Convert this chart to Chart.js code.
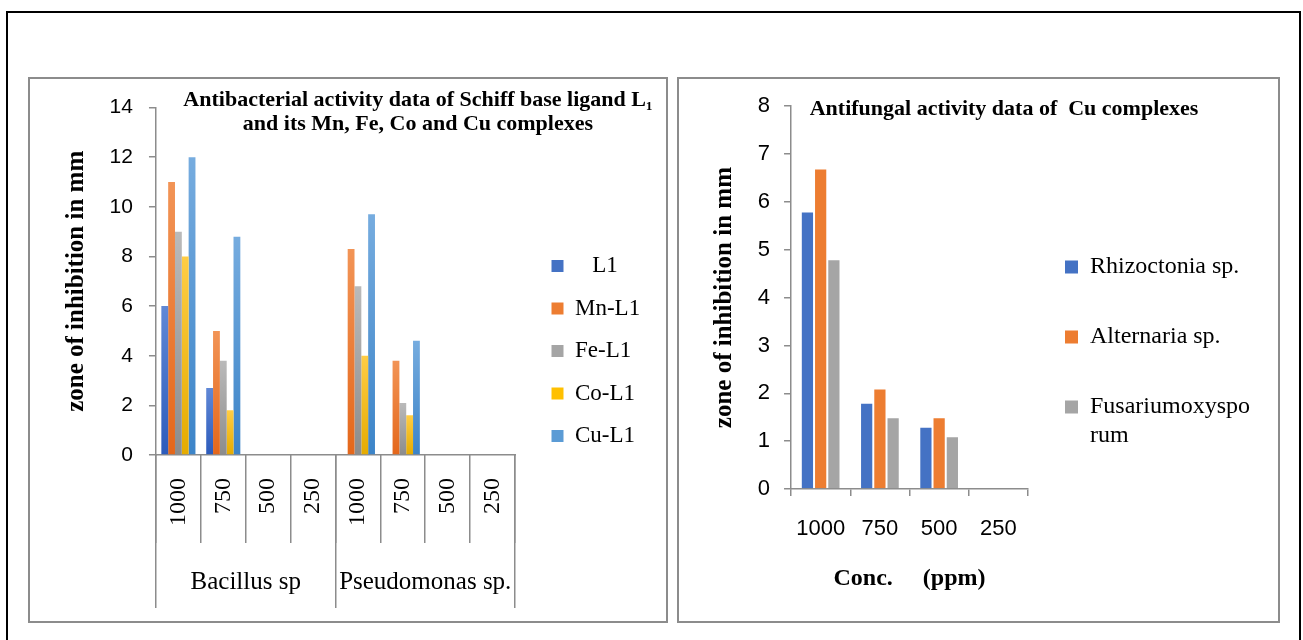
<!DOCTYPE html>
<html lang="en">
<head>
<meta charset="utf-8">
<title>Antibacterial and antifungal activity</title>
<script src="https://cdn.jsdelivr.net/npm/chart.js@4.4.1/dist/chart.umd.min.js"></script>
<style>
  html, body { margin: 0; padding: 0; background: #fff; }
  body { position: relative; width: 1303px; height: 640px; overflow: hidden; }
  .frame { position: absolute; left: 6px; top: 11px; width: 1291px; height: 700px; border: 2px solid #000; }
  .box { position: absolute; top: 77px; height: 542px; border: 2px solid #8c8c8c; background: #fff; }
  .box canvas { display: block; }
  #boxA { left: 28px; width: 636px; }
  #boxB { left: 677px; width: 599px; }
</style>
</head>
<body>
<div class="frame"></div>
<div class="box" id="boxA"><canvas id="bacteriaChart" width="636" height="542"></canvas></div>
<div class="box" id="boxB"><canvas id="fungiChart" width="599" height="542"></canvas></div>
<script>
// --- data ---
const concLevels = ["1000", "750", "500", "250"];
const bacteria = ["Bacillus sp", "Pseudomonas sp."];
const bacteriaConc = [...concLevels, ...concLevels];

// zone of inhibition (mm), Bacillus 1000..250 then Pseudomonas 1000..250
const l1Zone = [6, 2.7, 0, 0, 0, 0, 0, 0];
const mnZone = [11, 5, 0, 0, 8.3, 3.8, 0, 0];
const feZone = [9, 3.8, 0, 0, 6.8, 2.1, 0, 0];
const coZone = [8, 1.8, 0, 0, 4, 1.6, 0, 0];
const cuZone = [12, 8.8, 0, 0, 9.7, 4.6, 0, 0];

// antifungal, 1000..250 ppm
const rhizoctonia = [5.8, 1.8, 1.3, 0];
const alternaria = [6.7, 2.1, 1.5, 0];
const fusarium = [4.8, 1.5, 1.1, 0];

const serif = "'Liberation Serif', 'Times New Roman', serif";
const sans = "'Liberation Sans', Arial, sans-serif";
const axisGray = "#8c8c8c";

// vertical gradient per bar, lighter on top
const gradientFill = (light, dark) => (ctx) => {
  const chart = ctx.chart;
  if (ctx.type !== "data" || !chart.chartArea) return dark;
  const y = chart.scales.y;
  const top = y.getPixelForValue(ctx.raw || 0);
  const base = y.getPixelForValue(0);
  if (base - top < 1) return dark;
  const g = chart.ctx.createLinearGradient(0, top, 0, base);
  g.addColorStop(0, light);
  g.addColorStop(1, dark);
  return g;
};

// chart title drawn over the plot area, as in the original
const titleOverlay = {
  id: "titleOverlay",
  afterDraw(chart, args, opts) {
    const area = chart.chartArea;
    const c = chart.ctx;
    c.save();
    c.font = opts.font;
    c.fillStyle = "#000";
    c.textAlign = "center";
    c.textBaseline = "middle";
    opts.lines.forEach((line, i) => {
      c.fillText(line, area.left + opts.dx, area.top + opts.dy + i * opts.lineGap);
    });
    c.restore();
  }
};

// move the legend box a little after layout
const legendNudge = {
  id: "legendNudge",
  afterLayout(chart, args, opts) {
    const lg = chart.legend;
    if (!lg) return;
    lg.left += opts.dx || 0;
    lg.right += opts.dx || 0;
    lg.top += opts.dy || 0;
    lg.bottom += opts.dy || 0;
  }
};

const baseLabels = Chart.defaults.plugins.legend.labels.generateLabels;
const solidLabels = (wrapAt) => (chart) =>
  baseLabels(chart).map((item) => {
    const ds = chart.data.datasets[item.datasetIndex];
    let text = item.text;
    // long single words get broken like in the original legend
    if (wrapAt && text.length > wrapAt && !text.includes(" ")) {
      text = [text.slice(0, wrapAt), text.slice(wrapAt)];
    }
    return { ...item, text, fillStyle: ds.swatch, strokeStyle: ds.swatch, lineWidth: 0 };
  });

const hiddenTicks = { display: false };

new Chart(document.getElementById("bacteriaChart"), {
  type: "bar",
  data: {
    labels: bacteriaConc,
    datasets: [
      { label: "\u00a0\u00a0\u00a0L1", data: l1Zone, swatch: "#4472c4", backgroundColor: gradientFill("#6088d6", "#2c5bbb") },
      { label: "Mn-L1", data: mnZone, swatch: "#ed7d31", backgroundColor: gradientFill("#f29456", "#e4671b") },
      { label: "Fe-L1", data: feZone, swatch: "#a5a5a5", backgroundColor: gradientFill("#bababa", "#8c8c8c") },
      { label: "Co-L1", data: coZone, swatch: "#ffc000", backgroundColor: gradientFill("#ffcd45", "#e5ab00") },
      { label: "Cu-L1", data: cuZone, swatch: "#5b9bd5", backgroundColor: gradientFill("#76acdf", "#3c84c8") }
    ]
  },
  plugins: [titleOverlay, legendNudge],
  options: {
    responsive: false,
    animation: false,
    devicePixelRatio: 1,
    layout: { padding: { left: 32, top: 26, right: 39, bottom: 6 } },
    datasets: { bar: { barPercentage: 1, categoryPercentage: 0.76 } },
    scales: {
      // concentration labels
      x: {
        offset: true,
        grid: { display: false, drawTicks: false },
        border: { color: axisGray, width: 1.5 },
        ticks: { minRotation: 90, maxRotation: 90, autoSkip: false, padding: 23, color: "#000", font: { family: serif, size: 24 } }
      },
      // organism labels
      x2: {
        type: "category",
        position: "bottom",
        labels: bacteria,
        offset: true,
        grid: { display: false, drawTicks: false },
        border: { display: false },
        ticks: { padding: 18, color: "#000", font: { family: serif, size: 25 } }
      },
      // separators between concentrations
      xSep: {
        type: "category",
        position: { y: 0 },
        offset: true,
        grid: { drawOnChartArea: false, offset: true, tickLength: 88, color: axisGray, lineWidth: 1.5 },
        border: { display: false },
        ticks: hiddenTicks
      },
      // separators between organisms
      xGroupSep: {
        type: "category",
        position: { y: 0 },
        labels: bacteria,
        offset: true,
        grid: { drawOnChartArea: false, offset: true, tickLength: 153, color: axisGray, lineWidth: 1.5 },
        border: { display: false },
        ticks: hiddenTicks
      },
      y: {
        min: 0,
        max: 14,
        ticks: { stepSize: 2, padding: 16, color: "#000", font: { family: sans, size: 21 } },
        grid: { drawOnChartArea: false, tickLength: 7, color: axisGray, lineWidth: 1.5 },
        border: { color: axisGray, width: 1.5 },
        title: {
          display: true,
          text: "zone of inhibition in mm",
          color: "#000",
          font: { family: serif, size: 25, weight: "bold" },
          padding: { top: 0, bottom: 1.6 }
        }
      }
    },
    plugins: {
      legend: {
        position: "right",
        maxWidth: 112,
        labels: {
          boxWidth: 12,
          boxHeight: 12,
          padding: 19.5,
          color: "#000",
          font: { family: serif, size: 23 },
          generateLabels: solidLabels(0)
        }
      },
      legendNudge: { dx: 17, dy: -9 },
      tooltip: { enabled: false },
      titleOverlay: {
        lines: ["Antibacterial activity data of Schiff base ligand L\u2081", "and its Mn, Fe, Co and Cu complexes"],
        font: "bold 22px " + serif,
        dx: 262,
        dy: -7.6,
        lineGap: 24.6
      }
    }
  }
});

new Chart(document.getElementById("fungiChart"), {
  type: "bar",
  data: {
    labels: concLevels,
    datasets: [
      { label: "Rhizoctonia sp.", data: rhizoctonia, swatch: "#4472c4", backgroundColor: "#4472c4" },
      { label: "Alternaria sp.", data: alternaria, swatch: "#ed7d31", backgroundColor: "#ed7d31" },
      { label: "Fusariumoxysporum", data: fusarium, swatch: "#a5a5a5", backgroundColor: "#a5a5a5" }
    ]
  },
  plugins: [titleOverlay, legendNudge],
  options: {
    responsive: false,
    animation: false,
    devicePixelRatio: 1,
    layout: { padding: { left: 31, top: 26, right: 12, bottom: 23.6 } },
    datasets: {
      bar: {
        barPercentage: 1,
        categoryPercentage: 0.67,
        borderColor: "#ffffff",
        borderWidth: (ctx) => (ctx.raw > 0 ? 1 : 0)
      }
    },
    scales: {
      x: {
        offset: true,
        grid: { drawOnChartArea: false, offset: true, tickLength: 7, color: axisGray, lineWidth: 1.5 },
        border: { color: axisGray, width: 1.5 },
        ticks: { padding: 19.8, color: "#000", font: { family: sans, size: 22 } },
        title: {
          display: true,
          text: "Conc.\u00a0\u00a0\u00a0\u00a0\u00a0(ppm)",
          color: "#000",
          font: { family: serif, size: 24, weight: "bold" },
          padding: { top: 2.6, bottom: 4 }
        }
      },
      y: {
        min: 0,
        max: 8,
        ticks: { stepSize: 1, padding: 14, color: "#000", font: { family: sans, size: 22 } },
        grid: { drawOnChartArea: false, tickLength: 7, color: axisGray, lineWidth: 1.5 },
        border: { color: axisGray, width: 1.5 },
        title: {
          display: true,
          text: "zone of inhibition in mm",
          color: "#000",
          font: { family: serif, size: 25, weight: "bold" },
          padding: { top: 0, bottom: 3.8 }
        }
      }
    },
    plugins: {
      legend: {
        position: "right",
        maxWidth: 238,
        labels: {
          boxWidth: 13,
          boxHeight: 13,
          padding: 46,
          color: "#000",
          font: { family: serif, size: 24 },
          generateLabels: solidLabels(14)
        }
      },
      legendNudge: { dx: -9, dy: 2.6 },
      tooltip: { enabled: false },
      titleOverlay: {
        lines: ["Antifungal activity data of\u00a0 Cu complexes"],
        font: "bold 22px " + serif,
        dx: 213,
        dy: 3.6,
        lineGap: 0
      }
    }
  }
});
</script>
</body>
</html>
